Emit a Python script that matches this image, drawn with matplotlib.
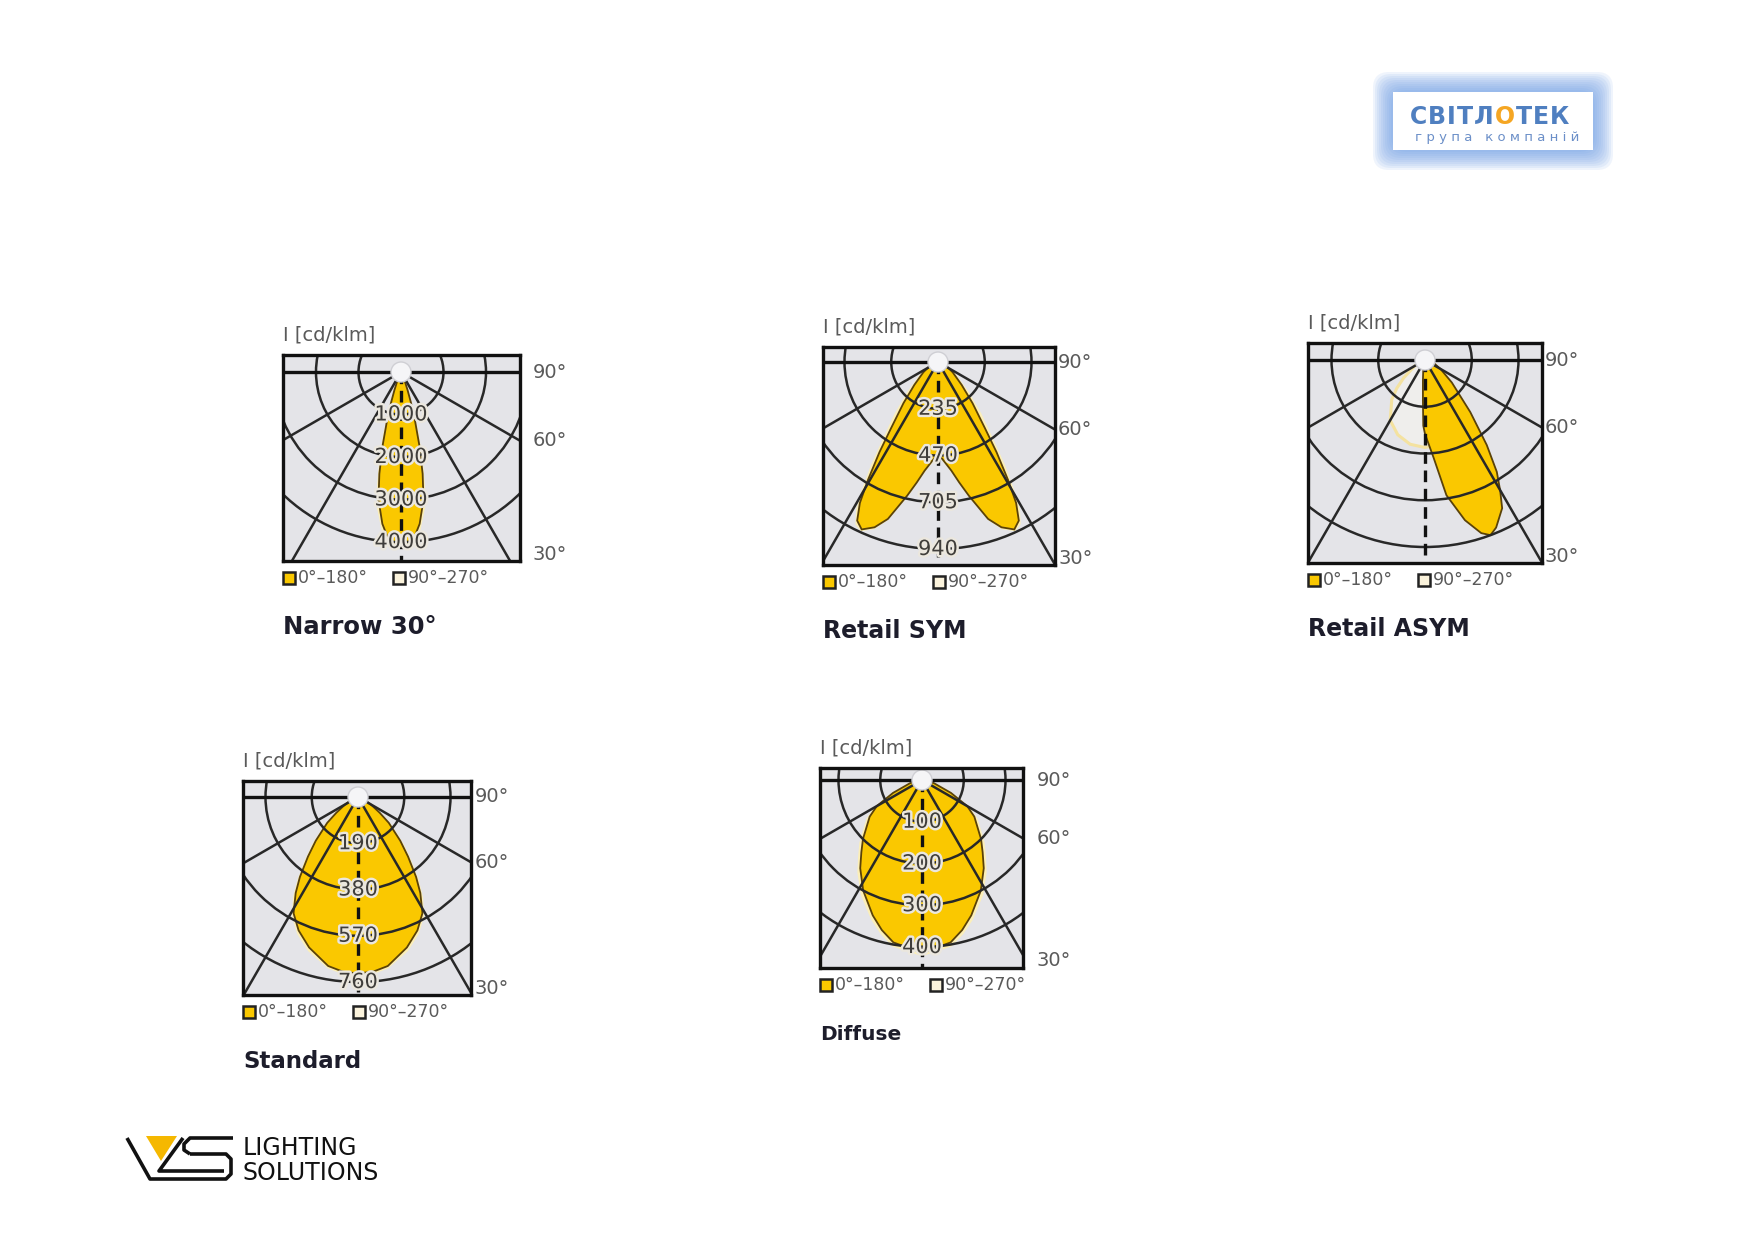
import matplotlib
matplotlib.use("Agg")
import matplotlib.pyplot as plt
import matplotlib.patheffects as pe
from matplotlib.patches import Circle, Rectangle, Polygon, FancyBboxPatch
import numpy as np

W, H = 1754, 1239

# light distribution curves: I in cd/klm against angle from nadir (deg)
# symmetric ones are given for one half only (0..90)
narrow_ang = [0, 3, 5, 7, 10, 12, 14, 16, 18, 20, 25, 30, 40, 90]
narrow_c0 = [4050, 4000, 3850, 3600, 3050, 2450, 1800, 1200, 760, 450, 150, 60, 10, 0]
narrow_c90 = [4100, 4050, 3950, 3750, 3250, 2700, 2100, 1500, 950, 600, 200, 80, 15, 0]
narrow_grid = [1000, 2000, 3000, 4000]

sym_ang = [0, 5, 7, 10, 13, 17.7, 21, 24.5, 27, 29, 30.7, 33, 35.3, 40, 46, 55, 65, 90]
sym_c0 = [460, 520, 550, 615, 690, 828, 890, 925, 895, 810, 690, 540, 410, 270, 165, 90, 45, 0]
sym_c90 = [470, 530, 560, 625, 700, 835, 900, 935, 915, 850, 750, 620, 490, 340, 210, 110, 50, 0]
sym_grid = [235, 470, 705, 940]

asym_ang = [-90, -45, -20, -10, -6, -3, -1.5, 0, 5, 9, 14, 18, 20.5, 23, 27.5, 30, 32.7, 36, 41, 50, 60, 75, 90]
asym_c0 = [0, 5, 20, 50, 100, 200, 330, 372, 492, 688, 830, 915, 940, 915, 840, 755, 668, 528, 347, 176, 90, 40, 0]
asym_ang90 = [-90, -60, -50, -45, -40, -30, -20, -10, 0, 10, 20, 30, 45, 60, 90]
asym_c90 = [0, 60, 140, 200, 260, 350, 400, 430, 440, 430, 360, 260, 140, 50, 0]
asym_grid = [235, 470, 705, 940]

std_ang = [0, 5, 10, 18, 24, 29, 33, 36, 40, 44, 50, 54, 60, 70, 90]
std_c0 = [725, 720, 705, 650, 600, 546, 470, 406, 320, 250, 165, 110, 60, 22, 0]
std_c90 = [735, 730, 715, 665, 615, 560, 490, 425, 340, 270, 180, 120, 65, 25, 0]
std_grid = [190, 380, 570, 760]

dif_ang = [0, 10, 15, 20, 28, 35, 40, 45, 55, 60, 66, 75, 85, 90]
dif_c0 = [414, 395, 372, 345, 300, 258, 226, 200, 153, 125, 76, 30, 8, 0]
dif_c90 = [422, 405, 382, 356, 312, 270, 238, 212, 163, 133, 82, 33, 9, 0]
dif_grid = [100, 200, 300, 400]

grid_angles = [-60, -30, 30, 60]
angle_labels = ["90°", "60°", "30°"]
legend_labels = ["0°–180°", "90°–270°"]
unit_label = "I [cd/klm]"

YELLOW = "#fac800"
PALE = "#fcefb8"
GRID = "#282828"
DARK = "#111111"

fig = plt.figure(figsize=(W / 100, H / 100), dpi=100)
fig.patch.set_facecolor("white")

# overlay in pixel coordinates for texts, legends and logos
ov = fig.add_axes([0, 0, 1, 1])
ov.set_xlim(0, W)
ov.set_ylim(H, 0)
ov.axis("off")


def polar_xy(ang, val, mirror):
    a = np.radians(np.asarray(ang, float))
    v = np.asarray(val, float)
    if mirror:
        a = np.concatenate([-a[::-1], a[1:]])
        v = np.concatenate([v[::-1], v[1:]])
    return v * np.sin(a), -v * np.cos(a)


def panel(box, lamp, r_px, grid, c0, c90, title, tsize, gap, show_values=True, pale_outline=False):
    L, T, R, B = box
    lx, ly = lamp
    s = r_px / grid[-1]  # pixels per cd/klm
    ax = fig.add_axes([L / W, 1 - B / H, (R - L) / W, (B - T) / H])
    ax.set_xlim((L - lx) / s, (R - lx) / s)
    ax.set_ylim((ly - B) / s, (ly - T) / s)
    ax.set_facecolor("#e4e4e8")
    ax.set_xticks([])
    ax.set_yticks([])
    for sp in ax.spines.values():
        sp.set_linewidth(2.4)
        sp.set_color(DARK)
        sp.set_zorder(10)

    x, y = polar_xy(*c90)
    if pale_outline:
        ax.fill(x, y, facecolor="#efeeec", edgecolor="#f4e2a0", lw=2.2, zorder=1)
    else:
        ax.fill(x, y, color=PALE, lw=0, zorder=1)
    x, y = polar_xy(*c0)
    ax.fill(x, y, facecolor=YELLOW, edgecolor="#5a4208", lw=1.3, zorder=2)

    for g in grid:
        ax.add_patch(Circle((0, 0), g, fill=False, ec=GRID, lw=1.8, zorder=3))
    far = grid[-1] * 3
    for a in grid_angles:
        t = np.radians(a)
        ax.plot([0, far * np.sin(t)], [0, -far * np.cos(t)], color=GRID, lw=1.8, zorder=3)
    ax.axhline(0, color=DARK, lw=2.4, zorder=4)
    ax.plot([0, 0], [0, (ly - B) / s], color=DARK, lw=2.4, ls=(0, (3.5, 2)), zorder=4)

    if show_values:
        for g in grid:
            ax.text(0, -g, f"{g}", ha="center", va="center", fontsize=15,
                    color="#3f3d3a", zorder=5,
                    path_effects=[pe.withStroke(linewidth=3.5, foreground="#ebe7de")])
    ax.add_patch(Circle((0, 0), 10 / s, fc="#f5f5f7", ec="#cfcfd4", lw=1, zorder=6))

    # outside texts
    ov.text(L, T - 20, unit_label, fontsize=14, color="#5a5a5a", va="center", ha="left")
    ys = [ly, ly + (R - lx) * np.tan(np.radians(30)), B - 7]
    for lab, yy in zip(angle_labels, ys):
        ov.text(R + gap, yy, lab, fontsize=14, color="#5a5a5a", va="center", ha="left")
    for k, (lab, fc) in enumerate(zip(legend_labels, [YELLOW, "#fbf3dc"])):
        x0 = L + 110 * k
        ov.add_patch(Rectangle((x0, B + 11), 12, 12, fc=fc, ec="#222222", lw=1.8))
        ov.text(x0 + 15, B + 17, lab, fontsize=12.5, color="#5a5a5a", va="center", ha="left")
    ov.text(L, B + 66, title, fontsize=tsize, fontweight="heavy", color="#1d1d2b",
            va="center", ha="left")


panel((283, 355, 520, 561), (401, 372), 170, narrow_grid,
      (narrow_ang, narrow_c0, True), (narrow_ang, narrow_c90, True),
      "Narrow 30°", 17.5, 13)
panel((823, 347, 1055, 565), (938, 362), 187, sym_grid,
      (sym_ang, sym_c0, True), (sym_ang, sym_c90, True),
      "Retail SYM", 17, 3)
panel((1308, 343, 1542, 563), (1425, 360), 187, asym_grid,
      (asym_ang, asym_c0, False), (asym_ang90, asym_c90, False),
      "Retail ASYM", 17, 3, show_values=False, pale_outline=True)
panel((243, 781, 471, 995), (358, 797), 185, std_grid,
      (std_ang, std_c0, True), (std_ang, std_c90, True),
      "Standard", 16.5, 4)
panel((820, 768, 1023, 968), (922, 780), 167, dif_grid,
      (dif_ang, dif_c0, True), (dif_ang, dif_c90, True),
      "Diffuse", 14.5, 14)

# --- СВІТЛОТЕК logo (top right) ---
for i in range(10):
    pad = 20 - 2 * i
    ov.add_patch(FancyBboxPatch((1393, 92), 200, 58, boxstyle=f"round,pad={pad},rounding_size=16",
                                fc="#6f9fe6", ec="none", alpha=0.11))
ov.add_patch(Rectangle((1393, 92), 200, 58, fc="white", ec="none"))
renderer = fig.canvas.get_renderer()
xpos = 1410
for ch in "СВІТЛОТЕК":
    col = "#f5a623" if ch == "О" else "#4f7fc0"
    t = ov.text(xpos, 117, ch, fontsize=17, fontweight="bold", color=col,
                ha="left", va="center")
    xpos += t.get_window_extent(renderer).width + 1.0
ov.text(1497, 138, "г р у п а   к о м п а н і й", fontsize=9.5, color="#6b8fc8",
        ha="center", va="center")

# --- VS lighting solutions logo (bottom left) ---
ov.add_patch(Polygon([(146, 1136), (177, 1136), (161, 1161)], closed=True, fc="#f5b800", ec="none"))
vs_a = [(127, 1138), (150, 1179), (226, 1179), (231, 1174), (231, 1159), (226, 1154), (190, 1154)]
vs_b = [(233, 1138), (190, 1138), (184, 1144), (184, 1150), (190, 1154)]
vs_c = [(183, 1138), (159, 1171), (224, 1171)]
for pts in (vs_a, vs_b, vs_c):
    xs, ys = zip(*pts)
    ov.plot(xs, ys, color="#111111", lw=2.6, solid_capstyle="butt", solid_joinstyle="round")
ov.text(243, 1148, "LIGHTING", fontsize=17, color="#111111", va="center", ha="left")
ov.text(243, 1173, "SOLUTIONS", fontsize=17, color="#111111", va="center", ha="left")

fig.savefig("out.png", dpi=100, facecolor="white")
